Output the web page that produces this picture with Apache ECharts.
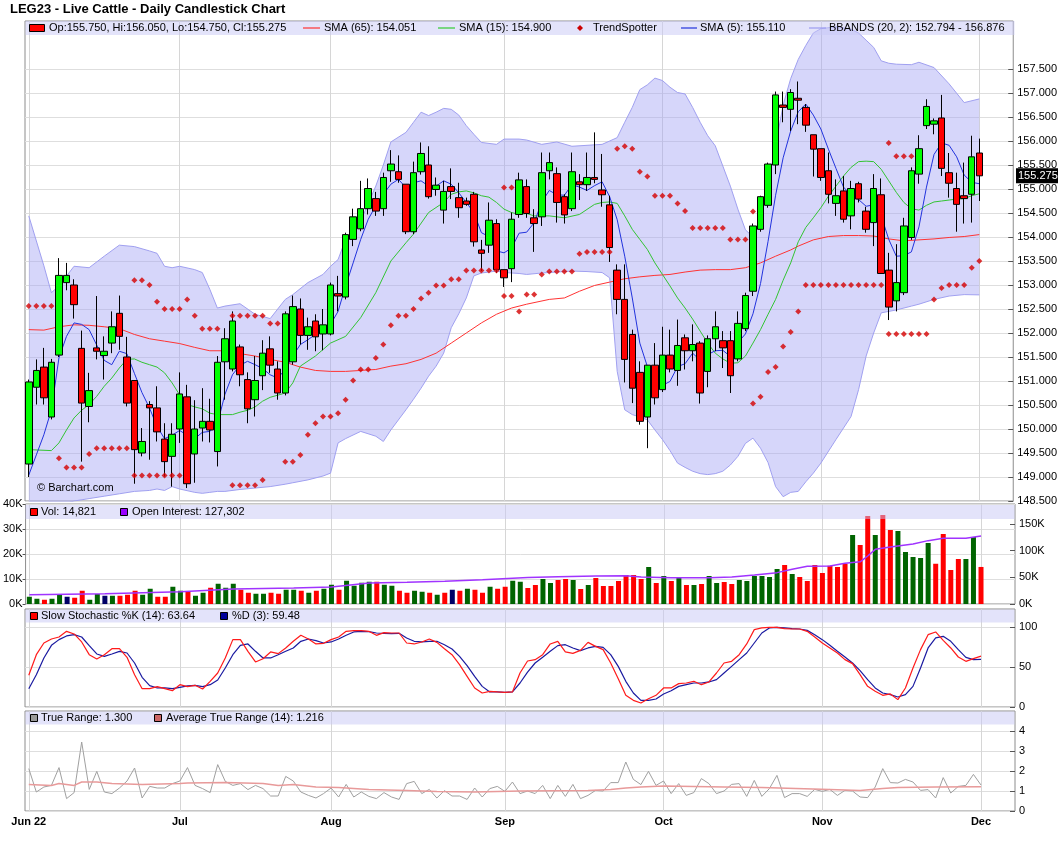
<!DOCTYPE html>
<html lang="en">
<head>
<meta charset="UTF-8">
<title>LEG23 - Live Cattle - Daily Candlestick Chart</title>
<script src="https://cdn.jsdelivr.net/npm/echarts@6.0.0/dist/echarts.min.js"></script>
<style>
  html, body { margin: 0; padding: 0; background: #fff; }
  #main { width: 1060px; height: 851px; }
</style>
</head>
<body>
<div id="main"></div>
<script type="text/javascript">
var chart = echarts.init(document.getElementById('main'));

// trading-day index of the first session of each month, and its label
var monthStart = [0, 20, 40, 63, 84, 105, 126];
var monthLabels = ['Jun 22', 'Jul', 'Aug', 'Sep', 'Oct', 'Nov', 'Dec'];
var slots = 131; // axis slots, the last few stay empty

var opens = [
  149.27, 150.87, 151.29, 150.25, 151.54, 153.05, 153.0, 151.68, 150.47, 151.69,
  151.53, 151.79, 152.41, 151.5, 151.01, 149.5, 150.51, 150.44, 149.79, 149.43,
  150.0, 150.67, 149.48, 150.02, 150.16, 149.53, 151.4, 151.25, 151.71, 151.03,
  150.61, 151.11, 151.67, 151.25, 150.75, 151.4, 152.5, 151.95, 152.25, 151.98,
  151.98, 152.82, 152.75, 153.95, 154.17, 154.59, 154.8, 154.59, 155.38, 155.36,
  155.1, 154.11, 155.36, 155.5, 154.99, 154.56, 155.05, 154.82, 154.75, 154.89,
  153.73, 153.83, 154.28, 153.32, 153.34, 154.47, 155.05, 154.4, 154.42, 155.38,
  155.32, 154.84, 154.59, 155.15, 155.09, 155.24, 154.98, 154.67, 153.31, 152.7,
  151.97, 151.18, 150.25, 151.33, 150.82, 151.54, 151.22, 151.9, 151.63, 151.79,
  151.2, 151.88, 151.84, 151.84, 151.46, 152.09, 152.87, 154.16, 154.66, 155.5,
  156.75, 156.66, 156.89, 156.7, 156.13, 155.84, 155.38, 154.7, 154.96, 154.44,
  155.11, 154.54, 154.3, 154.88, 153.31, 152.67, 152.84, 153.99, 155.31, 156.32,
  156.35, 156.48, 155.34, 155.01, 154.86, 154.89, 155.75
];
var highs = [
  151.03, 151.45, 151.69, 151.46, 153.56, 153.46, 153.12, 152.05, 151.17, 152.77,
  151.93, 152.45, 152.78, 151.92, 151.01, 150.02, 150.58, 150.89, 150.12, 150.12,
  151.18, 150.92, 150.6, 150.85, 150.63, 151.52, 152.1, 152.45, 151.76, 151.18,
  151.52, 151.85, 151.93, 151.41, 152.45, 152.78, 152.72, 152.32, 152.39, 152.5,
  153.05, 153.19, 154.09, 154.59, 155.17, 155.22, 154.94, 155.34, 155.81, 155.7,
  155.1, 155.57, 155.97, 155.89, 155.24, 155.17, 155.43, 155.13, 154.82, 154.94,
  153.94, 154.72, 154.37, 153.32, 154.51, 155.34, 155.2, 154.58, 155.76, 155.76,
  155.45, 154.89, 155.76, 155.31, 155.76, 156.18, 155.73, 154.86, 153.43, 153.43,
  152.07, 151.41, 151.33, 151.79, 152.13, 152.07, 152.28, 151.97, 152.18, 151.83,
  151.95, 152.45, 152.04, 152.04, 152.45, 152.84, 154.28, 154.86, 155.55, 157.03,
  157.03, 157.08, 157.24, 156.77, 156.13, 155.84, 155.76, 155.2, 155.27, 155.17,
  155.15, 154.63, 155.31, 155.22, 153.67, 153.85, 154.4, 155.45, 156.12, 156.87,
  156.47, 156.96, 155.75, 155.34, 155.55, 156.11, 156.05
];
var lows = [
  149.0, 150.51, 150.51, 150.2, 151.5, 152.89, 152.3, 149.32, 150.14, 151.45,
  151.03, 151.58, 151.65, 150.47, 148.86, 149.43, 149.36, 149.74, 149.01, 148.8,
  149.71, 148.77, 148.88, 149.74, 149.72, 149.22, 150.61, 151.2, 150.89, 150.12,
  150.26, 150.81, 151.17, 150.61, 150.7, 151.34, 151.76, 151.65, 151.62, 151.64,
  151.95, 152.45, 152.7, 153.81, 154.12, 154.47, 154.44, 154.44, 155.15, 155.13,
  154.06, 154.06, 155.3, 154.8, 154.86, 154.28, 154.79, 154.4, 154.65, 153.8,
  153.29, 153.67, 153.25, 152.96, 153.06, 154.4, 154.4, 153.69, 154.23, 155.2,
  154.3, 154.28, 154.54, 154.77, 154.96, 155.12, 154.63, 153.48, 152.39, 150.97,
  150.54, 150.09, 149.6, 150.51, 150.77, 151.18, 150.9, 151.24, 151.41, 150.53,
  150.87, 151.62, 151.27, 150.75, 151.41, 152.04, 152.77, 154.11, 154.61, 155.31,
  156.39, 156.21, 156.35, 156.19, 155.26, 155.17, 154.7, 154.44, 154.3, 154.16,
  154.72, 154.09, 153.81, 153.24, 152.27, 152.45, 152.79, 153.94, 155.11, 156.25,
  156.14, 155.27, 154.82, 154.11, 154.28, 154.3, 154.75
];
var closes = [
  150.98, 151.22, 150.65, 151.39, 153.2, 153.2, 152.59, 150.54, 150.8, 151.62,
  151.62, 152.13, 151.93, 150.54, 149.57, 149.74, 150.44, 149.94, 149.32, 149.89,
  150.73, 148.86, 150.0, 150.16, 149.98, 151.39, 151.88, 152.25, 151.13, 150.42,
  151.01, 151.58, 151.33, 150.75, 152.4, 152.55, 151.95, 152.13, 151.92, 152.17,
  153.0, 152.77, 154.05, 154.42, 154.59, 155.01, 154.54, 155.24, 155.52, 155.2,
  154.11, 155.34, 155.74, 154.84, 155.08, 154.95, 154.95, 154.61, 154.68, 153.9,
  153.66, 154.35, 153.32, 153.15, 154.37, 155.19, 154.49, 154.28, 155.34, 155.55,
  154.72, 154.46, 155.36, 155.09, 155.24, 155.2, 154.88, 153.78, 152.7, 151.45,
  150.85, 150.16, 151.33, 150.65, 151.54, 151.25, 151.74, 151.63, 151.76, 150.75,
  151.88, 152.13, 151.69, 151.11, 152.2, 152.78, 154.23, 154.84, 155.52, 156.96,
  156.7, 157.01, 156.85, 156.33, 155.83, 155.24, 154.89, 154.86, 154.37, 155.01,
  154.79, 154.16, 155.01, 153.24, 152.54, 153.05, 154.23, 155.38, 155.84, 156.72,
  156.42, 155.43, 155.12, 154.68, 154.8, 155.67, 155.275
];

var sma5 = [
  149.04, 149.46, 149.88, 150.4, 151.48, 151.93, 152.21, 152.18, 152.07, 151.75,
  151.43, 151.34, 151.62, 151.57, 151.16, 150.76, 150.44, 150.05, 149.8, 149.87,
  149.97, 149.87, 149.8, 149.93, 149.95, 150.1, 150.72, 151.13, 151.33, 151.41,
  151.34, 151.26, 151.13, 151.06, 151.24, 151.52, 151.76, 151.86, 151.97, 152.11,
  152.18, 152.45, 152.98, 153.46, 153.95, 154.37, 154.65, 154.89, 155.1, 155.2,
  155.03, 155.13, 155.17, 155.06, 155.06, 155.17, 155.1, 154.92, 154.72, 154.51,
  154.09, 154.01, 153.71, 153.67, 153.77, 154.08, 154.1, 154.3, 154.73, 154.97,
  154.88, 154.87, 155.09, 155.04, 154.97, 155.07, 155.15, 154.84, 154.36, 153.6,
  152.73, 151.79, 151.3, 150.89, 150.91, 150.99, 151.3, 151.36, 151.58, 151.43,
  151.55, 151.63, 151.64, 151.51, 151.8, 151.98, 152.4, 153.03, 153.91, 154.87,
  155.65, 156.21, 156.61, 156.77, 156.54, 156.25, 155.83, 155.43, 155.04, 154.87,
  154.78, 154.64, 154.67, 154.44, 153.95, 153.6, 153.61, 153.69, 154.21, 155.04,
  155.72, 155.96, 155.91, 155.67, 155.29, 155.14, 155.11
];
var sma15 = [
  [0, 149.57], [3, 149.55], [4, 149.71], [5, 149.98], [6, 150.23], [7, 150.39], [8, 150.51],
  [9, 150.68], [10, 150.89], [11, 151.06], [12, 151.27], [13, 151.45], [14, 151.46],
  [15, 151.39], [16, 151.34], [17, 151.29], [18, 151.17], [19, 150.96], [20, 150.71],
  [21, 150.51], [22, 150.46], [23, 150.42], [24, 150.33], [25, 150.3], [27, 150.3],
  [28, 150.35], [29, 150.39], [30, 150.46], [31, 150.58], [32, 150.66], [34, 150.75],
  [35, 150.96], [36, 151.31], [38, 151.52], [40, 151.79], [42, 151.93], [44, 152.32],
  [46, 152.84], [48, 153.5], [50, 153.88], [51, 154.06], [53, 154.51], [55, 154.72],
  [56, 154.89], [57, 154.94], [58, 154.96], [59, 154.92], [60, 154.86], [61, 154.83],
  [62, 154.72], [63, 154.58], [64, 154.51], [65, 154.47], [66, 154.49], [67, 154.44],
  [69, 154.44], [71, 154.4], [73, 154.47], [75, 154.68], [76, 154.72], [77, 154.73],
  [78, 154.7], [79, 154.44], [80, 154.16], [81, 153.95], [82, 153.74], [83, 153.46],
  [84, 153.22], [85, 152.98], [86, 152.73], [87, 152.52], [88, 152.29], [89, 152.04],
  [90, 151.79], [91, 151.58], [92, 151.46], [93, 151.37], [94, 151.38], [95, 151.52],
  [96, 151.79], [97, 152.07], [98, 152.39], [99, 152.7], [100, 153.1], [101, 153.46],
  [102, 153.9], [103, 154.2], [104, 154.4], [105, 154.61], [106, 154.85], [107, 155.06],
  [108, 155.27], [109, 155.45], [110, 155.57], [111, 155.58], [112, 155.57], [113, 155.41],
  [114, 155.17], [115, 154.93], [116, 154.72], [117, 154.59], [118, 154.56], [119, 154.66],
  [120, 154.73], [121, 154.75], [122, 154.77], [123, 154.79], [124, 154.8], [125, 154.86],
  [126, 154.9]
];
var sma65 = [
  [0, 152.07], [2, 152.06], [4, 152.13], [6, 152.17], [8, 152.16], [10, 152.13], [12, 152.09],
  [14, 151.97], [16, 151.88], [18, 151.83], [20, 151.78], [22, 151.7], [24, 151.63],
  [26, 151.63], [28, 151.57], [30, 151.52], [32, 151.45], [34, 151.39], [36, 151.29],
  [38, 151.22], [40, 151.2], [42, 151.2], [44, 151.22], [46, 151.24], [48, 151.31],
  [50, 151.36], [52, 151.45], [54, 151.58], [56, 151.79], [58, 152.0], [60, 152.21],
  [62, 152.39], [64, 152.52], [66, 152.6], [69, 152.7], [71, 152.73], [73, 152.87],
  [75, 152.99], [77, 153.06], [79, 153.13], [81, 153.17], [83, 153.2], [85, 153.22],
  [87, 153.27], [89, 153.31], [91, 153.32], [93, 153.32], [95, 153.36], [97, 153.46],
  [99, 153.6], [101, 153.73], [102, 153.81], [104, 153.94], [106, 154.01], [108, 154.03],
  [110, 154.03], [112, 154.02], [114, 153.96], [116, 153.92], [118, 153.94], [120, 153.96],
  [122, 153.99], [124, 154.01], [126, 154.05]
];

// Bollinger bands, read at shared positions
var bbIdx = [
  0, 2, 3, 4, 6, 8, 10, 12, 14, 16, 17, 18, 19, 20, 22, 23, 24, 25, 26, 28,
  30, 32, 34, 35, 37, 39, 40, 41, 42, 44, 46, 47, 48, 50, 51, 52, 53, 54, 55, 56,
  57, 58, 59, 60, 62, 63, 65, 66, 68, 70, 72, 74, 76, 77, 78, 79, 80, 81, 82, 83,
  84, 85, 86, 87, 88, 89, 90, 91, 92, 93, 94, 95, 96, 97, 98, 99, 100, 101, 102, 103,
  104, 105, 107, 109, 110, 111, 112, 113, 114, 115, 117, 118, 120, 122, 124, 126
];
var bbUpper = [
  154.44, 153.4, 152.84, 152.98, 153.39, 153.36, 153.6, 153.83, 153.8, 153.71,
  153.66, 153.39, 153.36, 153.39, 153.32, 153.26, 152.91, 152.52, 152.56, 152.61,
  152.39, 152.3, 152.7, 152.8, 153.05, 153.22, 153.39, 153.53, 153.95, 154.33,
  155.06, 155.5, 155.98, 156.18, 156.39, 156.6, 156.53, 156.6, 156.68, 156.66,
  156.54, 156.32, 156.14, 155.97, 155.93, 156.04, 156.04, 156.02, 155.93, 155.98,
  155.89, 155.91, 155.93, 156.0, 156.07, 156.39, 156.7, 157.07, 157.17, 157.31,
  157.26, 157.12, 157.01, 156.98, 156.7, 156.39, 156.11, 155.9, 155.48, 155.06,
  154.58, 154.15, 154.0, 154.4, 155.1, 155.9, 156.75, 157.3, 157.7, 157.99,
  158.25, 158.34, 158.38, 158.33, 158.25, 158.1, 157.95, 157.67, 157.62, 157.6,
  157.59, 157.64, 157.53, 157.19, 156.8, 156.876
];
var bbLower = [
  147.3, 147.9, 148.3, 148.4, 148.5, 148.55, 148.6, 148.65, 148.7, 148.72,
  148.75, 148.72, 148.8, 148.75, 148.68, 148.66, 148.68, 148.7, 148.7, 148.74,
  148.77, 148.8, 148.85, 148.88, 148.94, 149.02, 149.08, 149.71, 149.8, 149.95,
  149.85, 149.74, 149.98, 150.4, 150.62, 150.85, 151.1, 151.31, 151.58, 152.11,
  152.4, 152.73, 153.19, 153.25, 153.29, 153.26, 153.24, 153.22, 153.25, 153.27,
  153.29, 153.28, 153.26, 153.15, 151.2, 150.4, 150.3, 150.25, 150.19, 149.98,
  149.78, 149.55, 149.29, 149.2, 149.12, 149.07, 149.05, 149.07, 149.12, 149.25,
  149.43, 149.7, 149.81, 149.6, 149.3, 148.8, 148.59, 148.68, 148.7, 148.9,
  149.08, 149.29, 149.78, 150.26, 150.82, 151.52, 152.0, 152.42, 152.45, 152.48,
  152.56, 152.6, 152.7, 152.77, 152.8, 152.794
];

var trendSpot = [
  [0, 152.56], [1, 152.56], [2, 152.56], [3, 152.56], [4, 149.39], [5, 149.2], [6, 149.2], [7, 149.2],
  [8, 149.48], [9, 149.6], [10, 149.6], [11, 149.6], [12, 149.6], [13, 149.6],
  [14, 153.1], [15, 153.1], [16, 153.0], [17, 152.65], [18, 152.5], [19, 152.5], [20, 152.5],
  [21, 152.7], [22, 152.36], [23, 152.09], [24, 152.09], [25, 152.09],
  [14, 149.03], [15, 149.03], [16, 149.03], [17, 149.03], [18, 149.03], [19, 149.03], [20, 149.03],
  [27, 152.36], [28, 152.36], [29, 152.36], [30, 152.36], [31, 152.36], [32, 152.2], [33, 152.2],
  [27, 148.83], [28, 148.83], [29, 148.83], [30, 148.83], [31, 148.94],
  [34, 149.32], [35, 149.32], [36, 149.46], [37, 149.88], [38, 150.12], [39, 150.26], [40, 150.26],
  [41, 150.33], [42, 150.61], [43, 151.01], [44, 151.24], [45, 151.24], [46, 151.48], [47, 151.76],
  [48, 152.16], [49, 152.36], [50, 152.36], [51, 152.5], [52, 152.72], [53, 152.84], [54, 152.99],
  [55, 152.99], [56, 153.12], [57, 153.12], [58, 153.3], [59, 153.3], [60, 153.3], [61, 153.3], [62, 153.3],
  [63, 155.03], [64, 155.03], [63, 152.77], [64, 152.77], [65, 152.45], [66, 152.8], [67, 152.8],
  [68, 153.22], [69, 153.28], [70, 153.28], [71, 153.28], [72, 153.28], [73, 153.65],
  [74, 153.69], [75, 153.69], [76, 153.69], [77, 153.69],
  [78, 155.84], [79, 155.89], [80, 155.84], [81, 155.36], [82, 155.26], [83, 154.86], [84, 154.86],
  [85, 154.86], [86, 154.7], [87, 154.54], [88, 154.19], [89, 154.19], [90, 154.19], [91, 154.19],
  [92, 154.19], [93, 153.95], [94, 153.95], [95, 153.95], [96, 154.53],
  [96, 150.53], [97, 150.67], [98, 151.19], [99, 151.29], [100, 151.72], [101, 152.02], [102, 152.45],
  [103, 153.0], [104, 153.0], [105, 153.0], [106, 153.0], [107, 153.0], [108, 153.0], [109, 153.0],
  [110, 153.0], [111, 153.0], [112, 153.0], [113, 153.0],
  [114, 155.96], [115, 155.68], [116, 155.68], [117, 155.68],
  [114, 151.98], [115, 151.98], [116, 151.98], [117, 151.98], [118, 151.98], [119, 151.98],
  [120, 152.7], [121, 152.94], [122, 153.0], [123, 153.0], [124, 153.0], [125, 153.36], [126, 153.5]
];

var volumes = [
  2900, 2100, 1700, 2100, 3700, 2900, 2500, 5300, 1700, 4000,
  3300, 3300, 3300, 3700, 5300, 3700, 6100, 2900, 2900, 6900,
  5300, 4900, 3300, 4500, 6500, 8100, 6500, 8100, 5700, 4500,
  4100, 4100, 4500, 4100, 5700, 5700, 5300, 4500, 5300, 6100,
  7700, 5700, 9300, 7300, 8500, 8900, 8900, 7700, 7300, 5300,
  4500, 5300, 4900, 4500, 3700, 4500, 5700, 5300, 6100, 5700,
  4500, 6900, 6100, 6900, 9300, 8900, 6400, 7600, 10000, 8400,
  9600, 10000, 9600, 6000, 7600, 10400, 7200, 7200, 9200, 11600,
  11600, 10000, 14800, 8400, 11200, 9200, 10800, 7600, 7600, 8000,
  11200, 8400, 8800, 8000, 9600, 9200, 11200, 11200, 10800, 14000,
  15600, 12000, 10800, 9200, 15600, 12400, 15300, 14800, 16100, 27600,
  23600, 35200, 27600, 35600, 29600, 29200, 20800, 18800, 18400, 24400,
  16100, 28000, 13600, 18000, 18000, 26800, 14821
];
var openInterest = [
  [0, 17500], [10, 19400], [20, 23100], [27, 28100], [35, 30000], [40, 31900], [45, 39400],
  [50, 40600], [55, 42500], [60, 45600], [66, 49500], [70, 51300], [75, 52500], [79, 53100],
  [81, 50600], [85, 49400], [90, 49400], [93, 50600], [96, 54400], [99, 58800], [101, 65000],
  [103, 70600], [106, 71300], [108, 76300], [110, 79000], [111, 90000], [112, 102500],
  [114, 106900], [117, 112500], [119, 118800], [121, 123100], [124, 123100], [126, 127302]
];

var stochK = [
  39.6, 65.4, 80, 85, 87.5, 94.6, 91.3, 81.3, 65.4, 60,
  65.4, 72.9, 72.9, 62.1, 40.4, 22.9, 22.9, 25.4, 22.9, 20.4,
  27.9, 25.4, 27.1, 22.5, 32.1, 42.5, 61.3, 84.2, 84.2, 69.6,
  56.3, 60.4, 68.8, 66.7, 73.8, 82.1, 89.6, 85, 78.8, 79.6,
  84.2, 87.5, 94.6, 95.4, 95.4, 94.6, 89.6, 92.9, 92.5, 92.5,
  80, 78.8, 81.3, 85, 80.8, 72.9, 65.4, 52.9, 38.3, 23.8,
  17.5, 19.6, 18.8, 18.3, 18.8, 42.5, 57.5, 59.2, 65.4, 78.8,
  82.1, 68.8, 67.1, 70.8, 80.8, 75.8, 71.7, 55, 35.4, 14.6,
  8.3, 5, 10.4, 14.6, 23.8, 23.8, 29.2, 30, 32.1, 27.9,
  31.3, 42.5, 55, 57.1, 65.4, 78.8, 96.7, 98.8, 99.6, 99.6,
  97.9, 97.5, 97.5, 94.6, 87.5, 80, 73.8, 67.5, 59.2, 54.2,
  40.4, 25.8, 19.6, 14.6, 16.3, 9.2, 23.8, 48.8, 71.7, 90.4,
  93.8, 83.3, 73.8, 62.5, 57.1, 60.4, 63.64
];
var stochD = [
  22.9, 40.4, 61.3, 77.1, 84.2, 88.8, 90.4, 87.5, 76.7, 66.3,
  63.3, 66.3, 69.6, 67.5, 55, 37.1, 26.7, 23.8, 23.8, 22.9,
  24.6, 26.3, 27.1, 25.4, 27.9, 33.8, 48.8, 65.4, 77.1, 78.8,
  69.6, 61.3, 61.3, 65.4, 69.6, 73.8, 82.1, 85, 82.9, 80,
  81.3, 85, 89.6, 93.8, 94.6, 94.2, 92.5, 92.1, 91.7, 92.1,
  86.3, 82.1, 81.3, 82.1, 82.1, 77.9, 72.5, 63.3, 51.7, 38.3,
  25.8, 18.8, 18.8, 18.3, 18.8, 30, 43.5, 55, 62.1, 69.6,
  76.7, 77.9, 73.8, 70.4, 73.8, 75.8, 74.6, 65.4, 50.8, 32.1,
  17.5, 8.3, 8.3, 10, 16.3, 20.4, 25.8, 27.9, 30, 30,
  31.3, 34.2, 42.5, 50.8, 59.2, 67.5, 80, 92.5, 98.8, 99.6,
  98.8, 97.9, 97.5, 95.8, 90.4, 84.2, 77.1, 69.6, 62.5, 55,
  45.4, 34.2, 23.8, 17.5, 15.4, 12.5, 15.4, 25.8, 48.8, 73.8,
  86.3, 88.3, 82.1, 71.7, 62.1, 59.2, 59.48
];

var trueRange = [
  2.12, 0.95, 1.2, 1.28, 2.17, 0.62, 0.92, 3.45, 1.08, 1.98,
  0.95, 0.87, 1.15, 1.5, 2.15, 0.65, 1.23, 1.15, 1.15, 1.37,
  1.5, 2.17, 1.28, 1.12, 0.92, 2.32, 1.48, 1.28, 1.37, 1.07,
  1.28, 1.12, 0.75, 0.75, 1.73, 1.5, 0.95, 0.78, 0.65, 0.87,
  1.15, 0.7, 1.33, 0.7, 0.95, 0.73, 0.62, 0.92, 0.7, 0.58,
  1.37, 1.48, 0.87, 1.08, 0.65, 1.02, 0.75, 0.75, 0.58, 1.15,
  0.7, 1.12, 1.23, 0.98, 1.45, 0.87, 1.0, 0.87, 1.28, 0.62,
  1.28, 0.73, 1.33, 0.62, 0.78, 1.03, 1.0, 1.42, 1.42, 2.45,
  1.58, 1.32, 1.98, 1.28, 1.5, 0.87, 1.37, 0.78, 0.92, 1.62,
  1.37, 0.87, 1.0, 1.33, 1.37, 0.73, 1.53, 0.73, 1.12, 1.78,
  0.67, 0.87, 0.87, 0.73, 1.08, 0.98, 1.08, 0.78, 1.03, 1.0,
  0.7, 0.67, 1.2, 2.12, 1.42, 1.4, 1.58, 1.45, 1.03, 1.07,
  0.65, 1.67, 0.9, 1.23, 1.28, 1.83, 1.3
];
var avgTrueRange = [
  [0, 1.32], [3, 1.28], [4, 1.37], [6, 1.28], [7, 1.45], [9, 1.45], [11, 1.37], [15, 1.32],
  [20, 1.37], [21, 1.4], [26, 1.42], [31, 1.37], [33, 1.28], [35, 1.32], [38, 1.2], [41, 1.17],
  [45, 1.08], [50, 1.03], [54, 0.98], [59, 0.95], [65, 1.0], [74, 1.02], [77, 1.07], [79, 1.15],
  [81, 1.2], [84, 1.25], [92, 1.2], [97, 1.17], [106, 1.08], [110, 1.03], [113, 1.12],
  [115, 1.17], [120, 1.2], [126, 1.216]
];

// ---------- build ----------
var FONT = '"Liberation Sans", Arial, sans-serif';
var cats = [];
for (var s = 0; s < slots; s++) cats.push('');
monthStart.forEach(function (i, k) { cats[i] = monthLabels[k]; });

var candles = opens.map(function (o, i) { return [o, closes[i], lows[i], highs[i]]; });
var volData = volumes.map(function (v, i) {
  var c = '#006400';
  if (i > 0 && closes[i] < closes[i - 1]) c = '#ff0000';
  else if (i > 0 && closes[i] === closes[i - 1]) c = '#000066';
  return { value: v, itemStyle: { color: c } };
});
var bbLowPts = bbIdx.map(function (x, k) { return [x, bbLower[k]]; });
var bbUpPts = bbIdx.map(function (x, k) { return [x, bbUpper[k]]; });
var bbSpread = bbIdx.map(function (x, k) { return [x, +(bbUpper[k] - bbLower[k]).toFixed(3)]; });

// price ticks only up to 157.5 (the top of the pane sits under the legend)
var priceTicks = [];
for (var pv = 148.5; pv <= 157.5; pv += 0.5) priceTicks.push(pv);

function monthLines() {
  return {
    silent: true, symbol: 'none', z: 1, animation: false,
    label: { show: false },
    lineStyle: { color: '#d6d6d6', type: 'solid', width: 1 },
    data: monthStart.map(function (i) { return { xAxis: i }; })
  };
}

function xAx(gi, showLabels) {
  return {
    type: 'category', gridIndex: gi, data: cats, boundaryGap: true,
    axisLine: { show: false }, axisTick: { show: false }, splitLine: { show: false },
    axisLabel: {
      show: showLabels, interval: 0, color: '#000', fontWeight: 'bold',
      fontSize: 11, fontFamily: FONT, margin: 5
    }
  };
}

var gridStyle = { show: true, borderColor: '#8c8c8c', borderWidth: 1, backgroundColor: '#fff' };
var priceLines = [];
for (var t = 0; t < 21; t++) priceLines.push(t < 19 ? '#dedede' : 'rgba(0,0,0,0)');

var axLabel = { color: '#000', fontSize: 11, fontFamily: FONT };

// legend bars and texts
var graphics = [];
function bar(y, h) {
  graphics.push({ type: 'rect', silent: true, z: 100,
    shape: { x: 25.5, y: y, width: 989, height: h },
    style: { fill: 'rgba(200,200,245,0.5)' } });
}
function txt(x, y, s, bold, size, color) {
  graphics.push({ type: 'text', silent: true, z: 102, x: x, y: y,
    style: { text: s, fill: color || '#000', verticalAlign: 'middle',
      font: (bold ? 'bold ' : '') + (size || 11) + 'px ' + FONT } });
}
function box(x, y, w, h, color) {
  graphics.push({ type: 'rect', silent: true, z: 101,
    shape: { x: x, y: y, width: w, height: h },
    style: { fill: color, stroke: '#000', lineWidth: 1 } });
}
function seg(x1, x2, y, color) {
  graphics.push({ type: 'line', silent: true, z: 101,
    shape: { x1: x1, y1: y, x2: x2, y2: y },
    style: { stroke: color, lineWidth: 1.2 } });
}

txt(10, 9, 'LEG23 - Live Cattle - Daily Candlestick Chart', true, 13);

bar(21, 14);
box(29.5, 24.5, 15, 7, '#ff0000');
txt(49, 28, 'Op:155.750, Hi:156.050, Lo:154.750, Cl:155.275');
seg(303, 320, 28, '#ff3333'); txt(324, 28, 'SMA (65): 154.051');
seg(438, 455, 28, '#33cc33'); txt(459, 28, 'SMA (15): 154.900');
graphics.push({ type: 'polygon', silent: true, z: 101,
  shape: { points: [[580, 25], [583, 28], [580, 31], [577, 28]] }, style: { fill: '#cc0000' } });
txt(593, 28, 'TrendSpotter');
seg(681, 697, 28, '#2233dd'); txt(700, 28, 'SMA (5): 155.110');
seg(809, 826, 28, '#9c9cf0'); txt(829, 28, 'BBANDS (20, 2): 152.794 - 156.876');

bar(505, 14);
box(30.5, 508.5, 7, 7, '#ff0000'); txt(41, 512, 'Vol: 14,821');
box(120.5, 508.5, 7, 7, '#9900ff'); txt(132, 512, 'Open Interest: 127,302');

bar(609.5, 13);
box(30.5, 612.5, 7, 7, '#ff0000'); txt(41, 616, 'Slow Stochastic %K (14): 63.64');
box(220.5, 612.5, 7, 7, '#000099'); txt(232, 616, '%D (3): 59.48');

bar(711.5, 13);
box(30.5, 714.5, 7, 7, '#999999'); txt(41, 718, 'True Range: 1.300');
box(154.5, 714.5, 7, 7, '#cc6666'); txt(166, 718, 'Average True Range (14): 1.216');

txt(37, 488, '\u00a9 Barchart.com');

var option = {
  animation: false,
  backgroundColor: '#fff',
  grid: [
    Object.assign({ left: 25, right: 45, top: 21, height: 480 }, gridStyle),
    Object.assign({ left: 25, right: 45, top: 504, height: 100 }, gridStyle),
    Object.assign({ left: 25, right: 45, top: 609, height: 98 }, gridStyle),
    Object.assign({ left: 25, right: 45, top: 711, height: 100 }, gridStyle)
  ],
  xAxis: [xAx(0, false), xAx(1, false), xAx(2, false), xAx(3, true)],
  yAxis: [
    { type: 'value', gridIndex: 0, position: 'right', min: 148.5, max: 158.5, interval: 0.5,
      axisLine: { show: false },
      axisTick: { show: true, inside: true, length: 5, customValues: priceTicks, lineStyle: { color: '#555' } },
      axisLabel: Object.assign({ margin: 4, customValues: priceTicks,
        formatter: function (v) { return v > 157.6 ? '' : v.toFixed(3); } }, axLabel),
      splitLine: { show: true, lineStyle: { color: priceLines, width: 1 } } },
    { type: 'value', gridIndex: 1, position: 'left', min: 0, max: 40000, interval: 10000,
      axisLine: { show: false },
      axisTick: { show: true, length: 3, lineStyle: { color: '#555' } },
      axisLabel: Object.assign({ margin: 3, formatter: function (v) { return (v / 1000) + 'K'; } }, axLabel),
      splitLine: { show: true, lineStyle: { color: '#dedede' } } },
    { type: 'value', gridIndex: 1, position: 'right', min: 0, max: 187500, interval: 50000,
      axisLine: { show: false },
      axisTick: { show: true, inside: true, length: 5, customValues: [0, 50000, 100000, 150000], lineStyle: { color: '#555' } },
      axisLabel: Object.assign({ margin: 4, formatter: function (v) { return (v % 50000 === 0 && v <= 150000) ? (v / 1000) + 'K' : ''; } }, axLabel),
      splitLine: { show: false } },
    { type: 'value', gridIndex: 2, position: 'right', min: 0, max: 122.5, interval: 50,
      axisLine: { show: false },
      axisTick: { show: true, inside: true, length: 5, customValues: [0, 50, 100], lineStyle: { color: '#555' } },
      axisLabel: Object.assign({ margin: 4, formatter: function (v) { return (v % 50 === 0 && v <= 100) ? String(v) : ''; } }, axLabel),
      splitLine: { show: true, lineStyle: { color: '#dedede' } } },
    { type: 'value', gridIndex: 3, position: 'right', min: 0, max: 5, interval: 1,
      axisLine: { show: false },
      axisTick: { show: true, inside: true, length: 5, customValues: [0, 1, 2, 3, 4], lineStyle: { color: '#555' } },
      axisLabel: Object.assign({ margin: 4, formatter: function (v) { return v <= 4 ? String(v) : ''; } }, axLabel),
      splitLine: { show: true, lineStyle: { color: '#dedede' } } }
  ],
  graphic: graphics,
  series: [
    // ---- price panel ----
    { name: 'bbBase', type: 'line', xAxisIndex: 0, yAxisIndex: 0, data: bbLowPts, stack: 'bb',
      symbol: 'none', silent: true, lineStyle: { opacity: 0 }, z: 2, markLine: monthLines() },
    { name: 'bbFill', type: 'line', xAxisIndex: 0, yAxisIndex: 0, data: bbSpread, stack: 'bb',
      symbol: 'none', silent: true, lineStyle: { opacity: 0 }, z: 2,
      areaStyle: { color: 'rgba(165,165,245,0.45)', opacity: 1 } },
    { name: 'BB upper', type: 'line', xAxisIndex: 0, yAxisIndex: 0, data: bbUpPts, symbol: 'none',
      silent: true, z: 3, lineStyle: { color: '#a0a0f0', width: 1 } },
    { name: 'BB lower', type: 'line', xAxisIndex: 0, yAxisIndex: 0, data: bbLowPts, symbol: 'none',
      silent: true, z: 3, lineStyle: { color: '#a0a0f0', width: 1 } },
    { name: 'SMA (65)', type: 'line', xAxisIndex: 0, yAxisIndex: 0, data: sma65, symbol: 'none',
      silent: true, z: 3, lineStyle: { color: '#ff3333', width: 1 } },
    { name: 'SMA (15)', type: 'line', xAxisIndex: 0, yAxisIndex: 0, data: sma15, symbol: 'none',
      silent: true, z: 3, lineStyle: { color: '#33c433', width: 1 } },
    { name: 'SMA (5)', type: 'line', xAxisIndex: 0, yAxisIndex: 0, data: sma5, symbol: 'none',
      silent: true, z: 3, lineStyle: { color: '#2233dd', width: 1 } },
    { name: 'LEG23', type: 'candlestick', xAxisIndex: 0, yAxisIndex: 0, data: candles, barWidth: 7, z: 4,
      itemStyle: { color: '#00ff00', color0: '#ff0000', borderColor: '#000', borderColor0: '#000', borderWidth: 1 } },
    { name: 'TrendSpotter', type: 'scatter', xAxisIndex: 0, yAxisIndex: 0, data: trendSpot,
      symbol: 'diamond', symbolSize: 6, silent: true, z: 5, itemStyle: { color: '#d40000' } },

    // ---- volume / open interest ----
    { name: 'Vol', type: 'bar', xAxisIndex: 1, yAxisIndex: 1, data: volData, barWidth: 5,
      silent: true, z: 2, markLine: monthLines() },
    { name: 'Open Interest', type: 'line', xAxisIndex: 1, yAxisIndex: 2, data: openInterest, symbol: 'none',
      silent: true, z: 3, lineStyle: { color: '#a033ff', width: 1.5 } },

    // ---- slow stochastic ----
    { name: '%D', type: 'line', xAxisIndex: 2, yAxisIndex: 3, data: stochD, symbol: 'none',
      silent: true, z: 2, lineStyle: { color: '#1a1aa0', width: 1.2 }, markLine: monthLines() },
    { name: '%K', type: 'line', xAxisIndex: 2, yAxisIndex: 3, data: stochK, symbol: 'none',
      silent: true, z: 3, lineStyle: { color: '#ff1a1a', width: 1.2 } },

    // ---- true range ----
    { name: 'True Range', type: 'line', xAxisIndex: 3, yAxisIndex: 4, data: trueRange, symbol: 'none',
      silent: true, z: 2, lineStyle: { color: '#a0a0a0', width: 1 }, markLine: monthLines() },
    { name: 'ATR', type: 'line', xAxisIndex: 3, yAxisIndex: 4, data: avgTrueRange, symbol: 'none',
      silent: true, z: 3, lineStyle: { color: '#e89a9a', width: 1.5 } }
  ]
};

chart.setOption(option);

// last-price tag on the price axis, placed through the axis scale
var lastClose = closes[closes.length - 1];
var tagY = chart.convertToPixel({ yAxisIndex: 0 }, lastClose);
graphics.push({ type: 'rect', silent: true, z: 110,
  shape: { x: 1016, y: tagY - 7.5, width: 42, height: 15 }, style: { fill: '#000' } });
graphics.push({ type: 'text', silent: true, z: 111, x: 1018, y: tagY,
  style: { text: lastClose.toFixed(3), fill: '#fff', verticalAlign: 'middle', font: '11px ' + FONT } });
chart.setOption({ graphic: graphics });
</script>
